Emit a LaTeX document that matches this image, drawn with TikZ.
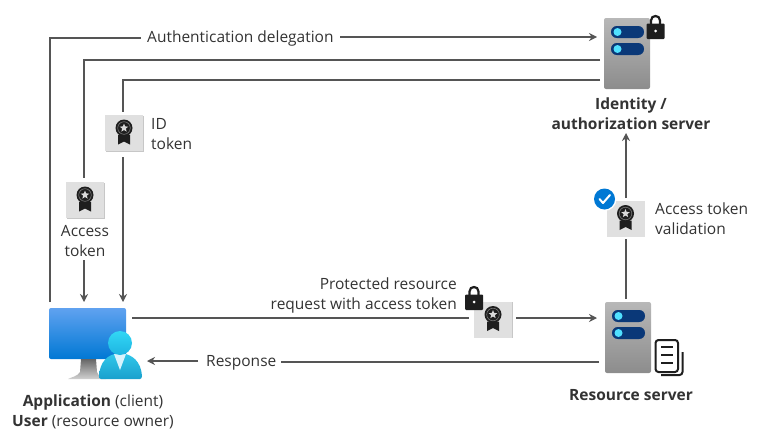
\documentclass[tikz,border=0pt]{standalone}
\usepackage{fontspec}
\setmainfont{Open Sans}
\usetikzlibrary{arrows.meta,calc,shapes.geometric}
\definecolor{linec}{HTML}{555555}
\definecolor{textc}{HTML}{333333}
\definecolor{pill}{HTML}{0A3878}
\definecolor{dot}{HTML}{50E0FF}
\definecolor{iconk}{HTML}{1E1E1E}
\definecolor{monA}{HTML}{60A2F0}
\definecolor{monB}{HTML}{0078D4}
\definecolor{perA}{HTML}{32C8EB}
\definecolor{perB}{HTML}{19A0CD}
\definecolor{headA}{HTML}{32D7F5}
\definecolor{headB}{HTML}{1EB4E1}
\newcommand{\rosette}{%
  \begin{scope}[shift={(path picture bounding box.center)}]
    \fill[iconk] (-6,2) -- (-6,11.5) -- (0,8.5) -- (6,11.5) -- (6,2) -- cycle;
    \fill[iconk] (0,-5) circle (8.5);
    \fill[iconk!60,even odd rule] (0,-5) circle (6.6) circle (6);
    \node[star,star points=5,star point ratio=2.3,fill=white!85!black,inner sep=0,minimum size=9] at (0,-5) {};
  \end{scope}}
\newcommand{\serverbars}{%
  \begin{scope}[shift={(path picture bounding box.center)}]
    \fill[pill,rounded corners=5.8] (-16,-27.5) rectangle (17,-15.5);
    \fill[pill,rounded corners=5.8] (-16,-10.5) rectangle (17,1.5);
    \fill[dot] (-9.5,-21.5) circle (4);
    \fill[dot] (-9.5,-4.5) circle (4);
  \end{scope}}
\newcommand{\padlock}[2]{%
  \draw[iconk,line width=2.2] (#1-4.5,#2) -- (#1-4.5,#2-3.5) .. controls (#1-4.5,#2-9.5) and (#1+4.5,#2-9.5) .. (#1+4.5,#2-3.5) -- (#1+4.5,#2);
  \fill[iconk,rounded corners=1] (#1-9,#2-.5) rectangle (#1+9,#2+15);
  \fill[white] (#1,#2+7) circle (1.5);}
\tikzset{
  x=1pt,y=-1pt,
  conn/.style={draw=linec,line width=1.2},
  arr/.style={conn,-{Stealth[length=8pt,width=8pt]}},
  lbl/.style={text=textc,font=\fontsize{15.5}{20}\selectfont,inner sep=0,align=left},
  ctrlbl/.style={lbl,align=center},
  tokenbox/.style={rectangle,inner sep=0,minimum width=38,minimum height=36,fill=black!12,
    preaction={fill=black!22,transform canvas={xshift=.8pt,yshift=-.8pt}},
    path picture={\rosette}},
  serverbox/.style={rectangle,rounded corners=2,inner sep=0,minimum width=46,minimum height=71,
    top color=black!28,bottom color=black!45,path picture={\serverbars}},
}
\begin{document}
\begin{tikzpicture}
\useasboundingbox (0,0) rectangle (763,439);
% nodes
\node[serverbox] (idsrv) at (627,53.5) {};
\node[serverbox] (ressrv) at (628,337.5) {};
\node[tokenbox] (idtok) at (124,133) {};
\node[tokenbox] (actok) at (85,200) {};
\node[tokenbox] (valtok) at (625.5,218.5) {};
\node[tokenbox] (reqtok) at (493,319.5) {};
\node[rectangle,rounded corners=2,inner sep=0,minimum width=77,minimum height=51,top color=monA,bottom color=monB] (app) at (87.5,333.5) {};
% stand
\shade[top color=black!60,bottom color=black!18] (81,359) -- (96,359) -- (97,372) .. controls (98,376) and (102,377) .. (106,379) -- (68,379) .. controls (72,377) and (78,376) .. (80,372) -- cycle;
% person
\shade[top color=perA,bottom color=perB]
  (99,376) .. controls (100,362) and (107,354) .. (120,353) .. controls (133,354) and (141,362) .. (142,376) .. controls (142,378) and (141,379) .. (140,379) -- (101,379) .. controls (100,379) and (99,378) .. (99,376) -- cycle;
\fill[cyan!15] (114,354) -- (126,354) -- (120,370) -- cycle;
\shade[top color=headA,bottom color=headB] (120,343) circle (12);
% labels
\node[lbl,anchor=west] (authl) at (147,38.5) {Authentication delegation};
\node[lbl,anchor=west] (idl) at (151,134) {ID\\token};
\node[ctrlbl,anchor=north] (acl) at (85,225.5) {Access\\token};
\node[lbl,anchor=west] (vall) at (655,219) {Access token\\validation};
\node[lbl,align=right,anchor=east] (reql) at (457,295) {Protected resource\\request with access token};
\node[lbl,anchor=west] (respl) at (206,362.5) {Response};
\node[ctrlbl,anchor=north] (idcap) at (631,98) {\textbf{Identity /}\\\textbf{authorization server}};
\node[ctrlbl,anchor=north] (rescap) at (631,389) {\textbf{Resource server}};
\node[ctrlbl,anchor=north] (appcap) at (93,395) {\textbf{Application} (client)\\\textbf{User} (resource owner)};
% connector end points
\coordinate (idin1) at (597,37);
\coordinate (idin2) at (600,60);
\coordinate (idin3) at (600,80);
\coordinate (appt1) at (50,302);
\coordinate (appt2) at (84,302);
\coordinate (appt3) at (123,302);
\coordinate (appr) at (132,318);
\coordinate (appb) at (147,361);
\coordinate (resl1) at (597,318);
\coordinate (resl2) at (599,362);
% connectors
\draw[conn] (appt1) -- (50,38) -- (141,38);
\draw[arr] (340,37) -- (idin1);
\draw[conn] (idin2) -- (84,60) -- (84,178);
\draw[arr] (84,260) -- (appt2);
\draw[conn] (idin3) -- (123,80) -- (123,112);
\draw[arr] (123,157) -- (appt3);
\draw[conn] (appr) -- (469,318);
\draw[arr] (516,318) -- (resl1);
\draw[conn] (resl2) -- (281,362);
\draw[arr] (198,361) -- (appb);
\draw[conn] (626,299) -- (626,239);
\draw[arr] (626,198) -- (626,133);
% locks
\padlock{655.5}{24}
\padlock{474}{295}
% check
\fill[white] (604.5,199) circle (12);
\fill[monB] (604.5,199) circle (10.5);
\draw[white,line width=2,line cap=round,line join=round] (599.5,199) -- (603,203) -- (610,195);
% document icon
\draw[iconk,line width=2,rounded corners=3,fill=white] (655.5,340) rectangle (678,372);
\draw[iconk,line width=2,rounded corners=3] (682.5,352) -- (682.5,375) -- (661,375);
\draw[iconk,line width=2] (661,347) -- (673,347) (661,355) -- (673,355) (661,363) -- (673,363);
\end{tikzpicture}
\end{document}
